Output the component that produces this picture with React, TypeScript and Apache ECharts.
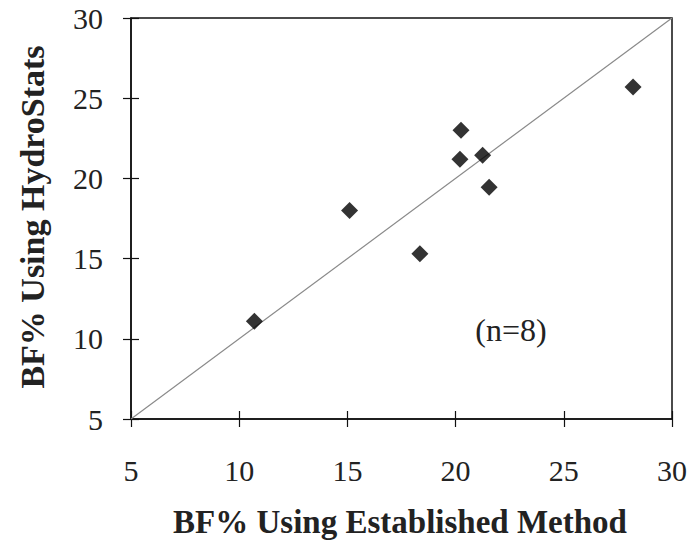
import React, { useEffect, useRef } from "react";
import * as echarts from "echarts";

const establishedBF = [10.7, 15.1, 18.35, 20.2, 20.25, 21.25, 21.55, 28.2];
const hydroStatsBF = [11.1, 18.0, 15.3, 21.2, 23.0, 21.45, 19.45, 25.7];
const identityLine = [5, 30];
const axisMin = 5;
const axisMax = 30;
const axisStep = 5;
const xTitle = "BF% Using Established Method";
const yTitle = "BF% Using HydroStats";
const annotation = "(n=8)";

const FONT = "'Liberation Serif', 'Times New Roman', serif";

export default function App() {
  const ref = useRef<HTMLDivElement>(null);
  useEffect(() => {
    if (!ref.current) return;
    const chart = echarts.init(ref.current, null, { renderer: "svg" });
    const points = establishedBF.map((x, i) => [x, hydroStatsBF[i]]);
    const axisCommon = {
      type: "value" as const,
      min: axisMin,
      max: axisMax,
      interval: axisStep,
      splitLine: { show: false },
    };
    const tickStyle = { color: "#111", width: 1.2 };
    chart.setOption({
      animation: false,
      backgroundColor: "#fff",
      grid: {
        left: 131,
        right: 16,
        top: 18,
        bottom: 131,
        show: true,
        borderColor: "#111",
        borderWidth: 1.5,
        backgroundColor: "transparent",
      },
      xAxis: [
        {
          ...axisCommon,
          position: "bottom",
          axisLine: { show: true, lineStyle: { color: "#111", width: 1.5 } },
          axisTick: { show: true, inside: false, length: 8, lineStyle: tickStyle },
          axisLabel: { color: "#222", fontFamily: FONT, fontSize: 30, margin: 36 },
        },
        {
          ...axisCommon,
          position: "bottom",
          axisLine: { show: false },
          axisTick: { show: true, inside: true, length: 8, lineStyle: tickStyle },
          axisLabel: { show: false },
        },
      ],
      yAxis: [
        {
          ...axisCommon,
          position: "left",
          axisLine: { show: true, lineStyle: { color: "#111", width: 1.5 } },
          axisTick: { show: true, inside: false, length: 8, lineStyle: tickStyle },
          axisLabel: { color: "#222", fontFamily: FONT, fontSize: 30, margin: 28 },
        },
        {
          ...axisCommon,
          position: "left",
          axisLine: { show: false },
          axisTick: { show: true, inside: true, length: 8, lineStyle: tickStyle },
          axisLabel: { show: false },
        },
      ],
      series: [
        {
          type: "line",
          data: identityLine.map((v) => [v, v]),
          showSymbol: false,
          symbol: "none",
          lineStyle: { color: "#8a8a8a", width: 1.2 },
          silent: true,
          z: 1,
        },
        {
          type: "scatter",
          data: points,
          symbol: "diamond",
          symbolSize: 17,
          itemStyle: { color: "#000" },
          z: 3,
        },
      ],
      graphic: [
        {
          type: "text",
          x: 400,
          y: 522,
          style: {
            text: xTitle,
            fontFamily: FONT,
            fontWeight: "bold",
            fontSize: 33,
            fill: "#222",
            align: "center",
            verticalAlign: "middle",
          },
        },
        {
          type: "text",
          x: 32,
          y: 217,
          rotation: Math.PI / 2,
          style: {
            text: yTitle,
            fontFamily: FONT,
            fontWeight: "bold",
            fontSize: 34,
            fill: "#222",
            align: "center",
            verticalAlign: "middle",
          },
        },
        {
          type: "text",
          x: 511,
          y: 330,
          style: {
            text: annotation,
            fontFamily: FONT,
            fontSize: 32,
            fill: "#222",
            align: "center",
            verticalAlign: "middle",
          },
        },
      ],
    });
    return () => chart.dispose();
  }, []);
  return (
    <div
      ref={ref}
      style={{ position: "fixed", left: 0, top: 0, width: 690, height: 550 }}
    />
  );
}
